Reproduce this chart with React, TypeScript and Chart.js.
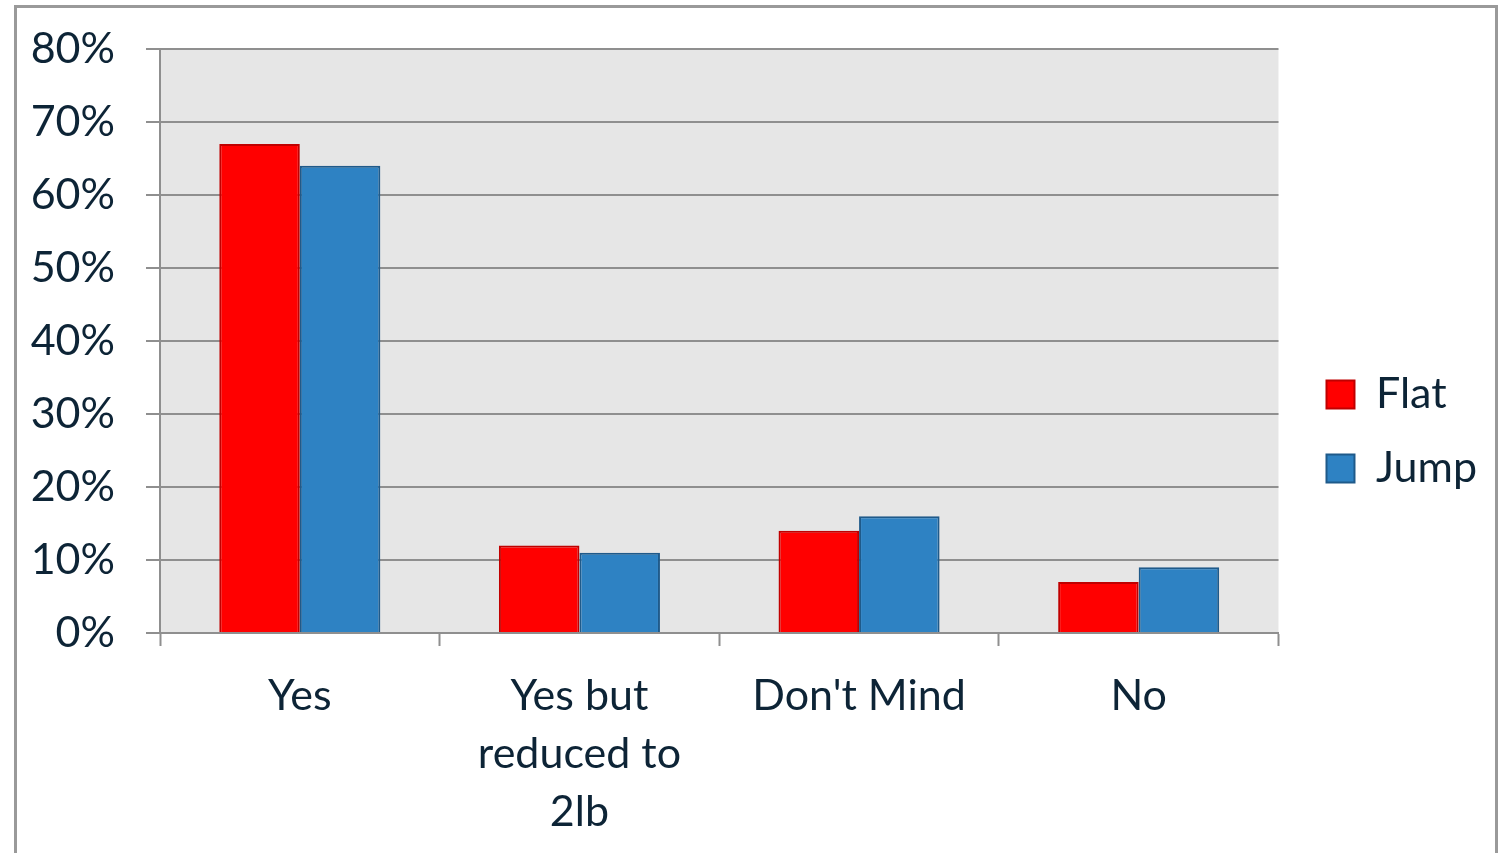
import React, { useEffect, useRef } from "react";
import { Chart, registerables } from "chart.js";

Chart.register(...registerables);

const categories: (string | string[])[] = ["Yes", ["Yes but", "reduced to", "2lb"], "Don't Mind", "No"];
const flatValues = [67, 12, 14, 7];
const jumpValues = [64, 11, 16, 9];
const yTicks = [0, 10, 20, 30, 40, 50, 60, 70, 80];

const FONT = "Lato, 'Open Sans', sans-serif";
const TEXT = "#0d2436";
const GRID = "#8f8f8f";

const frame = {
  id: "frame",
  beforeDraw(chart: any) {
    const { ctx, chartArea } = chart;
    ctx.save();
    ctx.fillStyle = "#ffffff";
    ctx.fillRect(0, 0, chart.width, chart.height);
    ctx.strokeStyle = "#9a9a9a";
    ctx.lineWidth = 3;
    ctx.strokeRect(15.5, 6.5, 1481, 900);
    ctx.fillStyle = "#e6e6e6";
    ctx.fillRect(chartArea.left, chartArea.top, chartArea.right - chartArea.left, chartArea.bottom - chartArea.top);
    ctx.restore();
  },
};

export default function App() {
  const ref = useRef<HTMLCanvasElement>(null);
  useEffect(() => {
    if (!ref.current) return;
    const chart = new Chart(ref.current, {
      type: "bar",
      data: {
        labels: categories,
        datasets: [
          {
            label: "Flat",
            data: flatValues,
            backgroundColor: "#ff0000",
            borderColor: "#c00000",
            borderWidth: 2,
            categoryPercentage: 0.576,
            barPercentage: 1,
          },
          {
            label: "Jump",
            data: jumpValues,
            backgroundColor: "#2e82c3",
            borderColor: "#1f5a8a",
            borderWidth: 2,
            categoryPercentage: 0.576,
            barPercentage: 1,
          },
        ],
      },
      options: {
        responsive: false,
        animation: false,
        layout: { padding: { top: 30, bottom: 20, left: 0, right: 16 } },
        plugins: {
          tooltip: { enabled: false },
          legend: {
            position: "right",
            align: "center",
            labels: {
              boxWidth: 28,
              boxHeight: 28,
              padding: 31,
              color: TEXT,
              font: { family: FONT, size: 43 },
            },
          },
        },
        scales: {
          x: {
            grid: {
              offset: true,
              drawOnChartArea: false,
              drawTicks: true,
              tickLength: 13,
              tickColor: GRID,
              tickWidth: 2,
              color: GRID,
            },
            border: { display: true, color: GRID, width: 2 },
            ticks: {
              color: TEXT,
              padding: 21,
              maxRotation: 0,
              autoSkip: false,
              font: { family: FONT, size: 43, lineHeight: 1.35 },
            },
            afterFit(scale: any) {
              scale.height = 200;
            },
          },
          xTop: {
            type: "category",
            position: "top",
            grid: { display: false },
            border: { display: false },
            ticks: { display: false },
            afterFit(scale: any) {
              scale.height = 19;
            },
          },
          y: {
            min: 0,
            max: 80,
            afterBuildTicks(scale: any) {
              scale.ticks = yTicks.map((v) => ({ value: v }));
            },
            grid: {
              color: GRID,
              lineWidth: 2,
              tickLength: 14,
              tickColor: GRID,
              tickWidth: 2,
            },
            border: { display: true, color: GRID, width: 2 },
            ticks: {
              color: TEXT,
              padding: 31,
              font: { family: FONT, size: 43, lineHeight: 0.6 },
              callback: (v: any) => v + "%",
            },
            afterFit(scale: any) {
              scale.width = 160;
            },
          },
          yRight: {
            type: "linear",
            position: "right",
            grid: { display: false },
            border: { display: false },
            ticks: { display: false },
            afterFit(scale: any) {
              scale.width = 17;
            },
          },
        },
      },
      plugins: [frame],
    });
    return () => chart.destroy();
  }, []);
  return (
    <div style={{ position: "fixed", left: 0, top: 0, width: 1503, height: 853, background: "#fff" }}>
      <canvas ref={ref} width={1503} height={853} />
    </div>
  );
}
